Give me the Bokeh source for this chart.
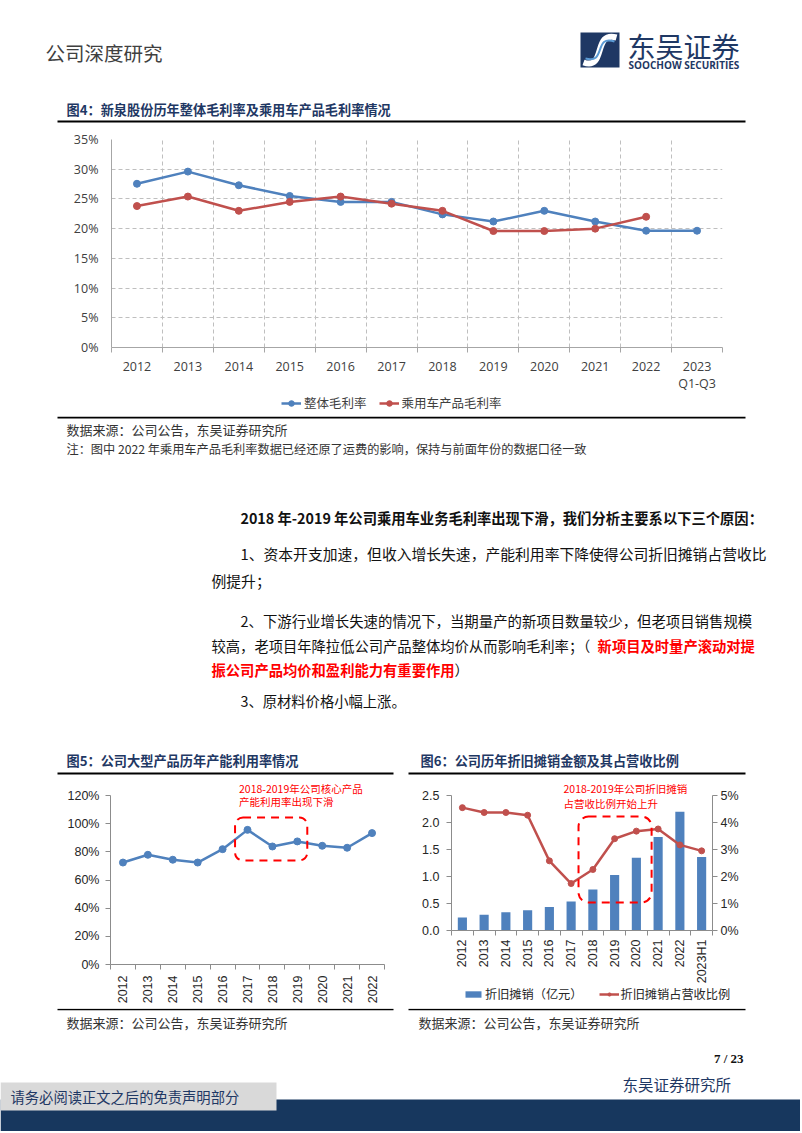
import numpy as np
from bokeh.plotting import figure
from bokeh.models import (Range1d, FixedTicker, NumeralTickFormatter, LinearAxis,
                          Legend, LegendItem, BoxAnnotation, Label, Title)
from bokeh.layouts import column, row
from bokeh.embed import file_html
from bokeh.resources import INLINE
from bokeh.core.properties import value

# ---------------- data ----------------
years4 = ["2012", "2013", "2014", "2015", "2016", "2017", "2018", "2019",
          "2020", "2021", "2022", "2023\nQ1-Q3"]
gm_total = [0.2755, 0.296, 0.273, 0.255, 0.245, 0.245, 0.224, 0.212, 0.230, 0.212, 0.1965, 0.1965]
gm_car = [0.238, 0.254, 0.230, 0.245, 0.254, 0.242, 0.230, 0.196, 0.196, 0.200, 0.220]
gm_ticks = [0, 0.05, 0.10, 0.15, 0.20, 0.25, 0.30, 0.35]
gm_names = ["整体毛利率", "乘用车产品毛利率"]

years5 = ["2012", "2013", "2014", "2015", "2016", "2017", "2018", "2019",
          "2020", "2021", "2022"]
util = [0.724, 0.779, 0.744, 0.724, 0.819, 0.956, 0.838, 0.874, 0.843, 0.829, 0.933]
util_ticks = [0, 0.2, 0.4, 0.6, 0.8, 1.0, 1.2]

years6 = ["2012", "2013", "2014", "2015", "2016", "2017", "2018", "2019",
          "2020", "2021", "2022", "2023H1"]
da_amt = [0.24, 0.29, 0.34, 0.375, 0.435, 0.535, 0.76, 1.03, 1.345, 1.73, 2.20, 1.36]
da_ratio = [0.0455, 0.0437, 0.0437, 0.0427, 0.0258, 0.0174, 0.0226, 0.0340, 0.0368,
            0.0376, 0.0317, 0.0295]
amt_ticks = [0, 0.5, 1.0, 1.5, 2.0, 2.5]
ratio_ticks = [0, 0.01, 0.02, 0.03, 0.04, 0.05]
da_names = ["折旧摊销（亿元）", "折旧摊销占营收比例"]

# ---------------- style ----------------
CJK = "Noto Sans CJK SC"
NAVY = "#1F3864"
BLUE = "#4F81BD"
RED = "#C0504D"
ANN = "#FF0000"
TXT = "#111111"
AX = "#8C8C8C"
W = 800


def bare(w, h, xr, yr):
    p = figure(width=w, height=h, x_range=xr, y_range=yr,
               x_axis_location=None, y_axis_location=None, output_backend="svg",
               toolbar_location=None, min_border=0)
    p.outline_line_color = None
    p.grid.visible = False
    p.frame_align = False
    return p


def deco(h):
    return bare(W, h, Range1d(0, W), Range1d(h, 0))


def txt(p, top, x, y, s, size, color=TXT, bold=False, align="left", font=CJK):
    p.text(x=[x], y=[y - top], text=[s], text_font=value(font),
           text_font_size=value(f"{size}px"), text_color=value(color),
           text_align=value(align), text_baseline=value("middle"),
           text_font_style=value("bold" if bold else "normal"))


def hline(p, top, x0, x1, y, w=2, color="#000000"):
    p.line(x=[x0, x1], y=[y - top, y - top], line_color=color, line_width=w)


# ---------------- band A : header (0 -> 130) ----------------
TA = 0
pa = deco(130)
txt(pa, TA, 45, 52, "公司深度研究", 19.5, color="#404040")
pa.quad(left=[580], right=[619], top=[32], bottom=[67], fill_color=NAVY, line_color=None)
pa.bezier(x0=[583], y0=[62], x1=[616], y1=[37], cx0=[606], cy0=[70], cx1=[592], cy1=[30],
          line_color="white", line_width=6)
pa.bezier(x0=[585], y0=[58], x1=[614], y1=[41], cx0=[606], cy0=[64], cx1=[593], cy1=[34],
          line_color="#5B9BD5", line_width=2)
txt(pa, TA, 627, 45, "东吴证券", 28, color=NAVY)
txt(pa, TA, 628, 64, "SOOCHOW SECURITIES", 10, color=NAVY, bold=True, font="Open Sans")
txt(pa, TA, 66, 109, "图4：新泉股份历年整体毛利率及乘用车产品毛利率情况", 13.2, color=NAVY, bold=True)
hline(pa, TA, 57, 745, 121, w=2)

# ---------------- chart 1 (130 -> 394) ----------------
x4 = [i + 0.5 for i in range(len(years4))]
p1 = figure(width=W, height=264, x_range=Range1d(0, len(years4)), y_range=Range1d(0, 0.35),
            output_backend="svg", toolbar_location=None,
            min_border_left=111, min_border_right=78, min_border_top=9, min_border_bottom=46)
p1.frame_align = False
p1.outline_line_color = None
p1.xaxis.ticker = FixedTicker(ticks=x4, minor_ticks=list(range(len(years4) + 1)))
p1.xaxis.major_label_overrides = {x: s for x, s in zip(x4, years4)}
p1.xaxis.major_tick_in = 0
p1.xaxis.major_tick_out = 0
p1.xaxis.minor_tick_in = 0
p1.xaxis.minor_tick_out = 5
p1.xaxis.minor_tick_line_color = "#A6A6A6"
p1.xaxis.axis_line_color = "#A6A6A6"
p1.xaxis.major_label_standoff = 5
p1.xaxis.major_label_text_line_height = 1.0
p1.yaxis.ticker = FixedTicker(ticks=gm_ticks)
p1.yaxis.formatter = NumeralTickFormatter(format="0%")
p1.yaxis.major_tick_in = 0
p1.yaxis.major_tick_out = 0
p1.yaxis.axis_line_color = "#A6A6A6"
p1.yaxis.major_label_standoff = 13
for ax in (p1.xaxis, p1.yaxis):
    ax.major_label_text_font = "Open Sans"
    ax.major_label_text_font_size = "12.5px"
    ax.major_label_text_color = "#404040"
p1.xgrid.grid_line_color = None
p1.xgrid.minor_grid_line_color = "#BFBFBF"
p1.xgrid.minor_grid_line_dash = "4 3"
p1.ygrid.grid_line_color = "#BFBFBF"
p1.ygrid.grid_line_dash = "4 3"

p1.line(x4, gm_total, line_color=BLUE, line_width=2.5)
p1.scatter(x4, gm_total, size=7, fill_color=BLUE, line_color=BLUE)
p1.line(x4[:len(gm_car)], gm_car, line_color=RED, line_width=2.5)
p1.scatter(x4[:len(gm_car)], gm_car, size=7, fill_color=RED, line_color=RED)

# legend strip for chart 1 (394 -> 416); the key renderers sit outside the strip's range
lg1 = bare(W, 22, Range1d(0, 1), Range1d(0, 1))
items1 = []
for name, col in zip(gm_names, [BLUE, RED]):
    r1 = lg1.line([5, 6], [5, 5], line_color=col, line_width=2.5)
    r2 = lg1.scatter([5], [5], size=7, fill_color=col, line_color=col)
    items1.append(LegendItem(label=name, renderers=[r1, r2]))
lg1.add_layout(Legend(items=items1, orientation="horizontal", location=(281, 4),
                      background_fill_alpha=0, border_line_color=None, padding=0, margin=0,
                      spacing=12, glyph_width=20, glyph_height=14, label_standoff=3,
                      label_text_font=CJK, label_text_font_size="12.5px",
                      label_text_color="#404040", label_height=14))

# ---------------- band B : notes and body text (416 -> 778) ----------------
TB = 416
pb = deco(362)
hline(pb, TB, 57, 745, 417, w=2)
txt(pb, TB, 66, 429, "数据来源：公司公告，东吴证券研究所", 13, color="#333333")
txt(pb, TB, 66, 448, "注：图中 2022 年乘用车产品毛利率数据已经还原了运费的影响，保持与前面年份的数据口径一致", 12.2, color="#333333")
FS = 14.3
txt(pb, TB, 240, 517, "2018 年-2019 年公司乘用车业务毛利率出现下滑，我们分析主要系以下三个原因：", FS, bold=True)
txt(pb, TB, 240, 553, "1、资本开支加速，但收入增长失速，产能利用率下降使得公司折旧摊销占营收比", 14.8)
txt(pb, TB, 211, 580, "例提升；", 14.8)
txt(pb, TB, 240, 620, "2、下游行业增长失速的情况下，当期量产的新项目数量较少，但老项目销售规模", 14.4)
black3 = "较高，老项目年降拉低公司产品整体均价从而影响毛利率；（"
txt(pb, TB, 211, 645, black3, FS)
txt(pb, TB, 211 + len(black3) * FS, 645, "新项目及时量产滚动对提", FS, color=ANN, bold=True)
red4 = "振公司产品均价和盈利能力有重要作用"
txt(pb, TB, 211, 669, red4, FS, color=ANN, bold=True)
txt(pb, TB, 211 + len(red4) * FS, 669, "）", FS)
txt(pb, TB, 240, 700, "3、原材料价格小幅上涨。", FS)
txt(pb, TB, 66, 760, "图5：公司大型产品历年产能利用率情况", 13.2, color=NAVY, bold=True)
txt(pb, TB, 420, 760, "图6：公司历年折旧摊销金额及其占营收比例", 13.2, color=NAVY, bold=True)
hline(pb, TB, 57, 393, 773, w=2)
hline(pb, TB, 408, 745, 773, w=2)


def small_axes(p):
    for ax in p.axis:
        ax.major_label_text_font = "Liberation Sans"
        ax.major_label_text_font_size = "12.5px"
        ax.major_label_text_color = "#262626"
        ax.axis_line_color = AX
        ax.major_tick_line_color = AX
        ax.minor_tick_line_color = AX
        ax.major_tick_in = 0
        ax.major_tick_out = 5


def ann_title(p, s, off):
    p.add_layout(Title(text=s, align="left", offset=off, text_color=ANN, text_font=CJK,
                       text_font_size="10.5px", text_font_style="normal", standoff=0), "above")


# ---------------- chart 5 (778 -> 1008, x 0 -> 400) ----------------
x5 = [i + 0.5 for i in range(len(years5))]
p5 = figure(width=400, height=230, x_range=Range1d(0, len(years5)), y_range=Range1d(0, 1.2),
            output_backend="svg", toolbar_location=None,
            min_border_left=110, min_border_right=16, min_border_top=17, min_border_bottom=44)
p5.frame_align = False
p5.outline_line_color = None
p5.grid.visible = False
p5.xaxis.ticker = FixedTicker(ticks=x5, minor_ticks=list(range(len(years5) + 1)))
p5.xaxis.major_label_overrides = {x: s for x, s in zip(x5, years5)}
p5.xaxis.major_label_orientation = np.pi / 2
p5.yaxis.ticker = FixedTicker(ticks=util_ticks)
p5.yaxis.formatter = NumeralTickFormatter(format="0%")
small_axes(p5)
p5.xaxis.major_tick_out = 0
p5.xaxis.minor_tick_in = 0
p5.xaxis.minor_tick_out = 5
p5.xaxis.major_label_standoff = 6
p5.yaxis.major_label_standoff = 6
p5.line(x5, util, line_color=BLUE, line_width=2.5)
p5.scatter(x5, util, size=7, fill_color=BLUE, line_color=BLUE)
p5.add_layout(BoxAnnotation(left=5.0, right=7.9, bottom=0.739, top=1.044, fill_alpha=0,
                            line_color=ANN, line_alpha=1, line_width=2, line_dash="8 6",
                            border_radius=8))
ann_title(p5, "2018-2019年公司核心产品", 128.5)
p5.add_layout(Label(x=5.16, y=1.16, text="产能利用率出现下滑", text_color=ANN,
                    text_font=CJK, text_font_size="10.5px", text_baseline="middle"))

# ---------------- chart 6 (778 -> 986, x 400 -> 800) ----------------
x6 = [i + 0.5 for i in range(len(years6))]
p6 = figure(width=400, height=208, x_range=Range1d(0, len(years6)), y_range=Range1d(0, 2.5),
            output_backend="svg", toolbar_location=None,
            min_border_left=51, min_border_right=88, min_border_top=15, min_border_bottom=53)
p6.frame_align = False
p6.outline_line_color = None
p6.grid.visible = False
p6.extra_y_ranges = {"pct": Range1d(0, 0.05)}
p6.add_layout(LinearAxis(y_range_name="pct", ticker=FixedTicker(ticks=ratio_ticks),
                         formatter=NumeralTickFormatter(format="0%")), "right")
p6.xaxis.ticker = FixedTicker(ticks=x6, minor_ticks=list(range(len(years6) + 1)))
p6.xaxis.major_label_overrides = {x: s for x, s in zip(x6, years6)}
p6.xaxis.major_label_orientation = np.pi / 2
p6.yaxis[0].ticker = FixedTicker(ticks=amt_ticks)
p6.yaxis[0].formatter = NumeralTickFormatter(format="0.0")
small_axes(p6)
p6.xaxis.major_tick_out = 0
p6.xaxis.minor_tick_in = 0
p6.xaxis.minor_tick_out = 5
p6.xaxis.major_label_standoff = 4
p6.yaxis[0].major_label_standoff = 7
p6.yaxis[1].major_label_standoff = 3
p6.vbar(x=x6, top=da_amt, width=0.42, fill_color=BLUE, line_color=None)
p6.line(x6, da_ratio, line_color=RED, line_width=2.5, y_range_name="pct")
p6.scatter(x6, da_ratio, size=6, fill_color=RED, line_color=RED, y_range_name="pct")
p6.add_layout(BoxAnnotation(left=5.84, right=9.2, bottom=0.52, top=2.11, fill_alpha=0,
                            line_color=ANN, line_alpha=1, line_width=2, line_dash="8 6",
                            border_radius=10))
ann_title(p6, "2018-2019年公司折旧摊销", 112)
p6.add_layout(Label(x=5.15, y=2.36, text="占营收比例开始上升", text_color=ANN,
                    text_font=CJK, text_font_size="10.5px", text_baseline="middle"))

# legend strip for chart 6 (986 -> 1008)
lg6 = bare(400, 22, Range1d(0, 1), Range1d(0, 1))
rb = lg6.vbar(x=[5], top=[5], width=0.4, fill_color=BLUE, line_color=None)
rl = lg6.line([5, 6], [5, 5], line_color=RED, line_width=2.5)
rs = lg6.scatter([5], [5], size=6, fill_color=RED, line_color=RED)
lg6.add_layout(Legend(items=[LegendItem(label=da_names[0], renderers=[rb]),
                             LegendItem(label=da_names[1], renderers=[rl, rs])],
                      orientation="horizontal", location=(63, 5),
                      background_fill_alpha=0, border_line_color=None, padding=0, margin=0,
                      spacing=16, glyph_width=20, glyph_height=8, label_standoff=2,
                      label_text_font=CJK, label_text_font_size="12.2px",
                      label_text_color="#262626", label_height=14))

# ---------------- band C : footer (1008 -> 1131) ----------------
TC = 1008
pc = deco(123)
hline(pc, TC, 57, 393, 1009, w=1.5)
hline(pc, TC, 408, 745, 1009, w=1.5)
txt(pc, TC, 66, 1022, "数据来源：公司公告，东吴证券研究所", 13, color="#333333")
txt(pc, TC, 418, 1022, "数据来源：公司公告，东吴证券研究所", 13, color="#333333")
txt(pc, TC, 743, 1058, "7 / 23", 13, color="#111111", bold=True, align="right", font="Liberation Serif")
txt(pc, TC, 622, 1083, "东吴证券研究所", 15.5, color=NAVY)
pc.quad(left=[0], right=[W], top=[1099 - TC], bottom=[1131 - TC], fill_color="#17375E", line_color=None)
pc.quad(left=[0], right=[276], top=[1082 - TC], bottom=[1110 - TC], fill_color="#D9D9D9", line_color=None)
txt(pc, TC, 10, 1096, "请务必阅读正文之后的免责声明部分", 14.3, color=NAVY)

layout = column(pa, p1, lg1, pb, row(p5, column(p6, lg6, spacing=0), spacing=0), pc, spacing=0)
open("out.html", "w").write(file_html(layout, INLINE))
